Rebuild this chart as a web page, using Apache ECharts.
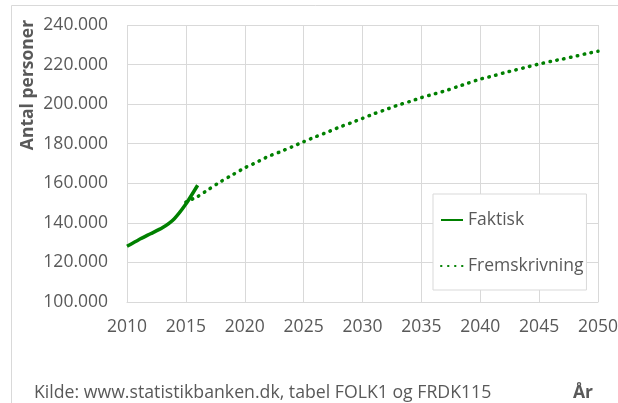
<!DOCTYPE html>
<html>
<head>
<meta charset="utf-8">
<script src="https://cdn.jsdelivr.net/npm/echarts@6/dist/echarts.min.js"></script>
<style>
  html, body { margin: 0; padding: 0; background: #fff; }
  #main { width: 618px; height: 403px; }
</style>
</head>
<body>
<div id="main"></div>
<script>
// data
var faktiskYears = [2010, 2011, 2012, 2013, 2014, 2015, 2016];
var faktiskValues = [128200, 131500, 134500, 137500, 142000, 149500, 159000];

var fremYears = [2015, 2016, 2017, 2018, 2019, 2020, 2021, 2022, 2023, 2024, 2025,
  2026, 2027, 2028, 2029, 2030, 2031, 2032, 2033, 2034, 2035, 2036, 2037, 2038,
  2039, 2040, 2041, 2042, 2043, 2044, 2045, 2046, 2047, 2048, 2049, 2050];
var fremValues = [150500, 153300, 157200, 161000, 164400, 167800, 170600, 173600,
  175900, 178400, 181000, 183500, 185800, 188300, 190500, 192800, 195200, 197300,
  199500, 201300, 203300, 205000, 206700, 208700, 210700, 212700, 214100, 215800,
  217300, 218800, 220300, 221600, 222800, 224100, 225500, 226700];

var seriesNames = ['Faktisk', 'Fremskrivning'];

function pairs(xs, ys) {
  var out = [];
  for (var i = 0; i < xs.length; i++) out.push([xs[i], ys[i]]);
  return out;
}

var green = '#008000';
var txt = '#595959';
var font = 'Open Sans';

var myChart = echarts.init(document.getElementById('main'));
var option = {
  animation: false,
  textStyle: { fontFamily: font },
  grid: { left: 127, right: 20, top: 25, bottom: 101, outerBoundsMode: 'none' },
  xAxis: {
    type: 'value',
    min: 2010,
    max: 2050,
    interval: 5,
    axisLine: { lineStyle: { color: '#d9d9d9' } },
    axisTick: { show: false },
    splitLine: { show: true, lineStyle: { color: '#d9d9d9' } },
    axisLabel: {
      color: txt, fontSize: 17.5, fontFamily: font, margin: 16,
      formatter: function (v) { return String(v); }
    }
  },
  yAxis: {
    type: 'value',
    min: 100000,
    max: 240000,
    interval: 20000,
    axisLine: { show: false },
    axisTick: { show: false },
    splitLine: { lineStyle: { color: '#d9d9d9' } },
    axisLabel: {
      color: txt, fontSize: 17.5, fontFamily: font, margin: 19,
      formatter: function (v) {
        return String(v).replace(/\B(?=(\d{3})+(?!\d))/g, '.');
      }
    }
  },
  legend: {
    data: seriesNames,
    orient: 'vertical',
    left: 433,
    top: 194,
    padding: [17, 3, 15, 7],
    itemGap: 28,
    itemWidth: 22,
    itemHeight: 14,
    itemStyle: { opacity: 0 },
    backgroundColor: '#fff',
    borderColor: '#d9d9d9',
    borderWidth: 1,
    borderRadius: 0,
    textStyle: { color: txt, fontSize: 17.5, fontFamily: font }
  },
  graphic: [
    {
      type: 'rect', silent: true, z: -10,
      shape: { x: 11.5, y: 5.5, width: 700, height: 500 },
      style: { fill: 'none', stroke: '#d9d9d9', lineWidth: 1 }
    },
    {
      type: 'text', x: 28, y: 85, rotation: Math.PI / 2,
      style: {
        text: 'Antal personer', fill: txt, font: 'bold 17.5px "Open Sans"',
        align: 'center', verticalAlign: 'middle'
      }
    },
    {
      type: 'text', x: 34, y: 393,
      style: {
        text: 'Kilde: www.statistikbanken.dk, tabel FOLK1 og FRDK115', fill: txt,
        font: '17.7px "Open Sans"', align: 'left', verticalAlign: 'middle'
      }
    },
    {
      type: 'text', x: 573, y: 393,
      style: {
        text: 'År', fill: txt, font: 'bold 17.5px "Open Sans"',
        align: 'left', verticalAlign: 'middle'
      }
    }
  ],
  series: [
    {
      name: seriesNames[1],
      type: 'line',
      data: pairs(fremYears, fremValues),
      symbol: 'none',
      smooth: 0.2,
      z: 2,
      itemStyle: { color: green },
      lineStyle: { color: green, width: 3.5, type: [0.5, 6.5], cap: 'round' }
    },
    {
      name: seriesNames[0],
      type: 'line',
      data: pairs(faktiskYears, faktiskValues),
      symbol: 'none',
      smooth: 0.2,
      z: 3,
      itemStyle: { color: green },
      lineStyle: { color: green, width: 3.5 }
    }
  ]
};
myChart.setOption(option);
</script>
</body>
</html>
